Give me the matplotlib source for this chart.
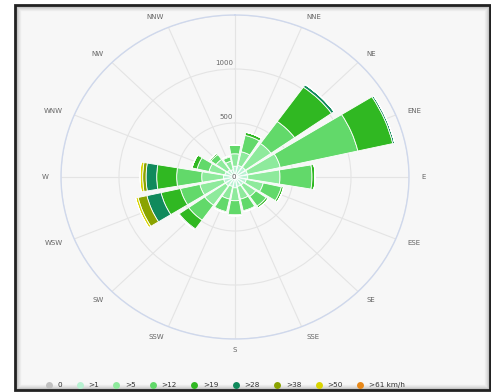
import numpy as np
import matplotlib
matplotlib.use("Agg")
import matplotlib.pyplot as plt
from matplotlib.patches import Rectangle
from matplotlib.lines import Line2D

# Wind directions (clockwise from north)
directions = ["N", "NNE", "NE", "ENE", "E", "ESE", "SE", "SSE",
              "S", "SSW", "SW", "WSW", "W", "WNW", "NW", "NNW"]

# Speed classes (km/h) and their colours
speed_labels = ["0", ">1", ">5", ">12", ">19", ">28", ">38", ">50", ">61 km/h"]
speed_colors = ["#c0c0c0", "#b8f2d2", "#8eea9c", "#62d96a", "#30b822",
                "#108a5c", "#8aa300", "#d9d400", "#e8891a"]

# Frequency per direction for each speed class (stacked)
calm    = [0, 0, 0, 0, 0, 0, 0, 0, 0, 0, 0, 0, 0, 0, 0, 0]
gt1     = [100, 110, 110, 110, 110, 100, 90, 90, 100, 90, 100, 100, 100, 90, 80, 70]
gt5     = [115, 130, 270, 290, 278, 150, 130, 120, 120, 120, 220, 211, 187, 140, 120, 80]
gt12    = [80, 155, 250, 686, 276, 160, 110, 110, 130, 120, 170, 172, 216, 105, 55, 40]
gt19    = [0, 30, 390, 309, 26, 20, 20, 10, 10, 10, 100, 171, 172, 45, 15, 10]
gt28    = [0, 0, 28, 17, 0, 0, 0, 0, 0, 0, 10, 125, 92, 0, 0, 0]
gt38    = [0, 0, 0, 0, 0, 0, 0, 0, 0, 0, 0, 78, 29, 0, 0, 0]
gt50    = [0, 0, 0, 0, 0, 0, 0, 0, 0, 0, 0, 21, 23, 0, 0, 0]
gt61    = [0, 0, 0, 0, 0, 0, 0, 0, 0, 0, 0, 0, 0, 0, 0, 0]

series = [calm, gt1, gt5, gt12, gt19, gt28, gt38, gt50, gt61]

r_ticks = [0, 500, 1000]
r_max = 1500

W, H = 491, 392
fig = plt.figure(figsize=(W / 100, H / 100), dpi=100)
fig.patch.set_facecolor("white")

# framed panel with a soft inner shadow
px = lambda x, y: (x / W, 1 - y / H)
x0, y0 = px(15, 390)
x1, y1 = px(490, 5)
fig.patches.append(Rectangle((x0, y0), x1 - x0, y1 - y0, transform=fig.transFigure,
                             facecolor="#f7f7f7", edgecolor="none", zorder=-10))
for i, a in enumerate([0.22, 0.14, 0.09, 0.05, 0.03]):
    d = (i + 1) * 1.0
    fig.patches.append(Rectangle((x0 + d / W, y0 + d / H), x1 - x0 - 2 * d / W,
                                 y1 - y0 - 2 * d / H, transform=fig.transFigure,
                                 facecolor="none", edgecolor="black", alpha=a,
                                 lw=1.0, zorder=-9))
fig.patches.append(Rectangle((x0, y0), x1 - x0, y1 - y0, transform=fig.transFigure,
                             facecolor="none", edgecolor="#222222", lw=2.0, zorder=-8))

# polar plot area (slightly elliptical)
cx, cy, rx, ry = 235, 177, 174, 162
ax = fig.add_axes([(cx - rx) / W, 1 - (cy + ry) / H, 2 * rx / W, 2 * ry / H],
                  projection="polar")
ax.set_aspect("auto")
ax.set_facecolor("none")
ax.set_theta_zero_location("N")
ax.set_theta_direction(-1)
ax.set_ylim(0, r_max)

n = len(directions)
theta = np.arange(n) * 2 * np.pi / n
width = 2 * np.pi / n * 0.86

bottom = np.zeros(n)
for vals, col in zip(series, speed_colors):
    vals = np.asarray(vals, dtype=float)
    ax.bar(theta, vals, width=width, bottom=bottom, color=col,
           edgecolor="white", linewidth=0.6, zorder=3)
    bottom += vals

# grid
ax.set_xticks(theta)
ax.set_xticklabels([])
ax.set_yticks([500, 1000, 1500])
ax.set_yticklabels([])
ax.grid(True, color="#e4e4e4", lw=0.8)
ax.spines["polar"].set_color("#cfd8ec")
ax.spines["polar"].set_linewidth(1.0)
ax.tick_params(length=0)

# radial axis labels
for v in r_ticks:
    if v == 0:
        ax.annotate("0", xy=(0, 0), xytext=(-1, 0), textcoords="offset points",
                    ha="center", va="center", fontsize=5, color="#555555", zorder=5)
    else:
        ax.annotate(str(v), xy=(0, v), xytext=(-1.5, 2), textcoords="offset points",
                    ha="right", va="bottom", fontsize=5, color="#666666", zorder=5)

# direction labels outside the rim
for t, lab in zip(theta, directions):
    if lab == "N":
        continue
    s = np.sin(t)
    if abs(s) < 1e-6:
        ha = "center"
    elif s > 0:
        ha = "left"
    else:
        ha = "right"
    ax.text(t, r_max * 1.07, lab, ha=ha, va="center", fontsize=5,
            color="#666666", clip_on=False)

# legend
handles = [Line2D([], [], marker="o", linestyle="none", markersize=5,
                  markerfacecolor=c, markeredgecolor="none") for c in speed_colors]
fig.legend(handles, speed_labels, loc="center", bbox_to_anchor=(0.458, 1 - 385 / H),
           ncol=9, frameon=False, fontsize=5.2, handletextpad=0.7,
           columnspacing=1.9, labelcolor="#333333", handlelength=1.0)

fig.savefig("out.png", dpi=100, facecolor=fig.get_facecolor())
